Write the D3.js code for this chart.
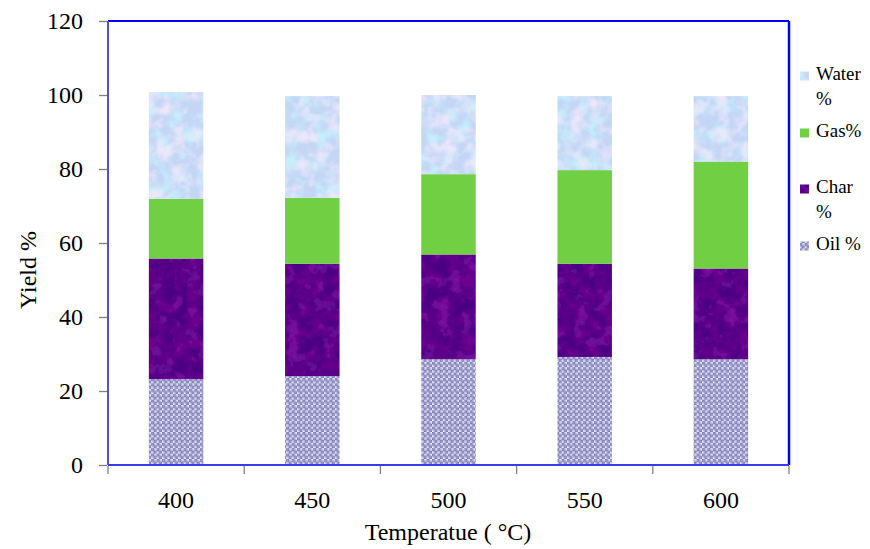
<!DOCTYPE html>
<html>
<head>
<meta charset="utf-8">
<script src="https://cdn.jsdelivr.net/npm/d3@7"></script>
<style>
  html, body { margin: 0; padding: 0; background: #fff; }
  svg { display: block; }
</style>
</head>
<body>
<svg id="chart" width="870" height="549"></svg>
<script>
// Product yields (%) at each pyrolysis temperature
const temperatures = ["400", "450", "500", "550", "600"];
const oilYield   = [23.2, 24.0, 28.6, 29.2, 28.6];
const charYield  = [32.6, 30.4, 28.3, 25.2, 24.5];
const gasYield   = [16.1, 17.8, 21.7, 25.3, 28.9];
const waterYield = [28.9, 27.5, 21.4, 20.0, 17.7];
const yTicks = [0, 20, 40, 60, 80, 100, 120];

const seriesKeys = ["oil", "char", "gas", "water"];
const seriesNames = { water: ["Water", "%"], gas: ["Gas%"], char: ["Char", "%"], oil: ["Oil %"] };

const rows = temperatures.map((t, i) => ({
  temp: t, oil: oilYield[i], char: charYield[i], gas: gasYield[i], water: waterYield[i]
}));

const serif = "'Liberation Serif'";
const svg = d3.select("#chart");
const margin = { left: 108, right: 81, top: 21, bottom: 84 };
const W = 870, H = 549;
const x0 = margin.left, x1 = W - margin.right, y0 = H - margin.bottom, y1 = margin.top;

const x = d3.scaleBand().domain(temperatures).range([x0, x1]).paddingInner(0.6).paddingOuter(0.3);
const slot = d3.scaleBand().domain(temperatures).range([x0, x1]).padding(0);
const y = d3.scaleLinear().domain([0, 120]).range([y0, y1]);

// ---- fills ----
const defs = svg.append("defs");

// Oil: small dotted checker
const pat = defs.append("pattern").attr("id", "oilPat").attr("patternUnits", "userSpaceOnUse")
  .attr("width", 5.4).attr("height", 5.4);
pat.append("rect").attr("width", 5.4).attr("height", 5.4).attr("fill", "#f4f4fa");
[[1.35, 1.35], [4.05, 4.05]].forEach(([cx, cy]) => {
  pat.append("circle").attr("cx", cx).attr("cy", cy).attr("r", 1.55)
    .attr("fill", "#9a9ad0").attr("stroke", "#5a5aa0").attr("stroke-width", 0.7);
});
[[4.05, 1.35], [1.35, 4.05]].forEach(([cx, cy]) => {
  pat.append("circle").attr("cx", cx).attr("cy", cy).attr("r", 0.9).attr("fill", "#c8c8e4");
});

// Char: mottled dark purple
const fChar = defs.append("filter").attr("id", "charTex")
  .attr("x", 0).attr("y", 0).attr("width", 1).attr("height", 1);
fChar.append("feTurbulence").attr("type", "fractalNoise").attr("baseFrequency", 0.08)
  .attr("numOctaves", 3).attr("seed", 4).attr("result", "n");
fChar.append("feColorMatrix").attr("in", "n").attr("type", "matrix")
  .attr("values", "0 0 0 0 0.2  0 0 0 0 0  0 0 0 0 0.3  1.5 0 0 0 -0.55").attr("result", "dark");
fChar.append("feComposite").attr("in", "dark").attr("in2", "SourceGraphic").attr("operator", "atop").attr("result", "d1");
fChar.append("feColorMatrix").attr("in", "n").attr("type", "matrix")
  .attr("values", "0 0 0 0 0.38  0 0 0 0 0.02  0 0 0 0 0.58  0 0.9 0 0 -0.45").attr("result", "light");
fChar.append("feComposite").attr("in", "light").attr("in2", "d1").attr("operator", "atop");

// Water: pale blue / lavender marbling
const fWater = defs.append("filter").attr("id", "waterTex")
  .attr("x", 0).attr("y", 0).attr("width", 1).attr("height", 1);
fWater.append("feTurbulence").attr("type", "fractalNoise").attr("baseFrequency", 0.07)
  .attr("numOctaves", 3).attr("seed", 9).attr("result", "n");
fWater.append("feColorMatrix").attr("in", "n").attr("type", "matrix")
  .attr("values", "0 0 0 0 0.55  0 0 0 0 0.87  0 0 0 0 0.97  2.6 0 0 0 -1.1").attr("result", "cy");
fWater.append("feComposite").attr("in", "cy").attr("in2", "SourceGraphic").attr("operator", "atop").attr("result", "w1");
fWater.append("feColorMatrix").attr("in", "n").attr("type", "matrix")
  .attr("values", "0 0 0 0 0.85  0 0 0 0 0.8  0 0 0 0 0.96  0 2.6 0 0 -1.1").attr("result", "lav");
fWater.append("feComposite").attr("in", "lav").attr("in2", "w1").attr("operator", "atop");

const fills = {
  oil:   { fill: "url(#oilPat)", filter: null },
  char:  { fill: "#4c0584", filter: "url(#charTex)" },
  gas:   { fill: "#70cf42", filter: null },
  water: { fill: "#c4d6f6", filter: "url(#waterTex)" }
};

// ---- stacked bars ----
const stacked = d3.stack().keys(seriesKeys)(rows);
const layers = svg.append("g").selectAll("g").data(stacked).join("g");
layers.each(function (layer) {
  const k = layer.key;
  d3.select(this).selectAll("rect").data(layer).join("rect")
    .attr("x", d => x(d.data.temp))
    .attr("width", x.bandwidth())
    .attr("y", d => y(d[1]))
    .attr("height", d => y(d[0]) - y(d[1]))
    .attr("fill", fills[k].fill)
    .attr("filter", fills[k].filter);
});

// ---- plot frame ----
svg.append("line").attr("x1", x0).attr("x2", x1).attr("y1", y1).attr("y2", y1)
  .attr("stroke", "#0000ff").attr("stroke-width", 2);
svg.append("line").attr("x1", x1).attr("x2", x1).attr("y1", y1).attr("y2", y0)
  .attr("stroke", "#0000ff").attr("stroke-width", 2.5);
svg.append("line").attr("x1", x0).attr("x2", x1).attr("y1", y0).attr("y2", y0)
  .attr("stroke", "#3a3af0").attr("stroke-width", 2);
svg.append("line").attr("x1", x0).attr("x2", x0).attr("y1", y1).attr("y2", y0)
  .attr("stroke", "#5454c8").attr("stroke-width", 2);

// ---- y axis ----
const yAxis = d3.axisLeft(y).tickValues(yTicks).tickSize(8).tickPadding(16);
const gy = svg.append("g").attr("transform", `translate(${x0 - 1},0)`).call(yAxis);
gy.attr("font-family", null).attr("font-size", null);
gy.select(".domain").remove();
gy.selectAll(".tick line").attr("stroke", "#808080").attr("stroke-width", 1.3);
gy.selectAll(".tick text").style("font-family", serif).style("font-size", "24px").attr("fill", "#000");

// ---- x axis: ticks on category boundaries, labels at bar centres ----
const bounds = temperatures.map(t => slot(t)).concat([x1]);
svg.append("g").selectAll("line").data(bounds).join("line")
  .attr("x1", d => d).attr("x2", d => d).attr("y1", y0 + 1).attr("y2", y0 + 9)
  .attr("stroke", "#808080").attr("stroke-width", 1.3);
svg.append("g").selectAll("text").data(temperatures).join("text")
  .attr("x", d => x(d) + x.bandwidth() / 2).attr("y", 508)
  .attr("text-anchor", "middle").style("font-family", serif).style("font-size", "24px").text(d => d);

// ---- axis titles ----
svg.append("text").attr("x", 448).attr("y", 540).attr("text-anchor", "middle")
  .style("font-family", serif).style("font-size", "24px").text("Temperatue ( °C)");
svg.append("text").attr("transform", "translate(36,270) rotate(-90)").attr("text-anchor", "middle")
  .style("font-family", serif).style("font-size", "24px").text("Yield %");

// ---- legend ----
const legendOrder = [
  { key: "water", y: 80 },
  { key: "gas", y: 137 },
  { key: "char", y: 193 },
  { key: "oil", y: 250 }
];
const lg = svg.append("g");
legendOrder.forEach(item => {
  const f = fills[item.key];
  lg.append("rect").attr("x", 800).attr("y", item.y - 8.5).attr("width", 9).attr("height", 9)
    .attr("fill", f.fill).attr("filter", f.filter);
  seriesNames[item.key].forEach((line, j) => {
    lg.append("text").attr("x", 816).attr("y", item.y + j * 25)
      .style("font-family", serif).style("font-size", "19px").text(line);
  });
});
</script>
</body>
</html>
